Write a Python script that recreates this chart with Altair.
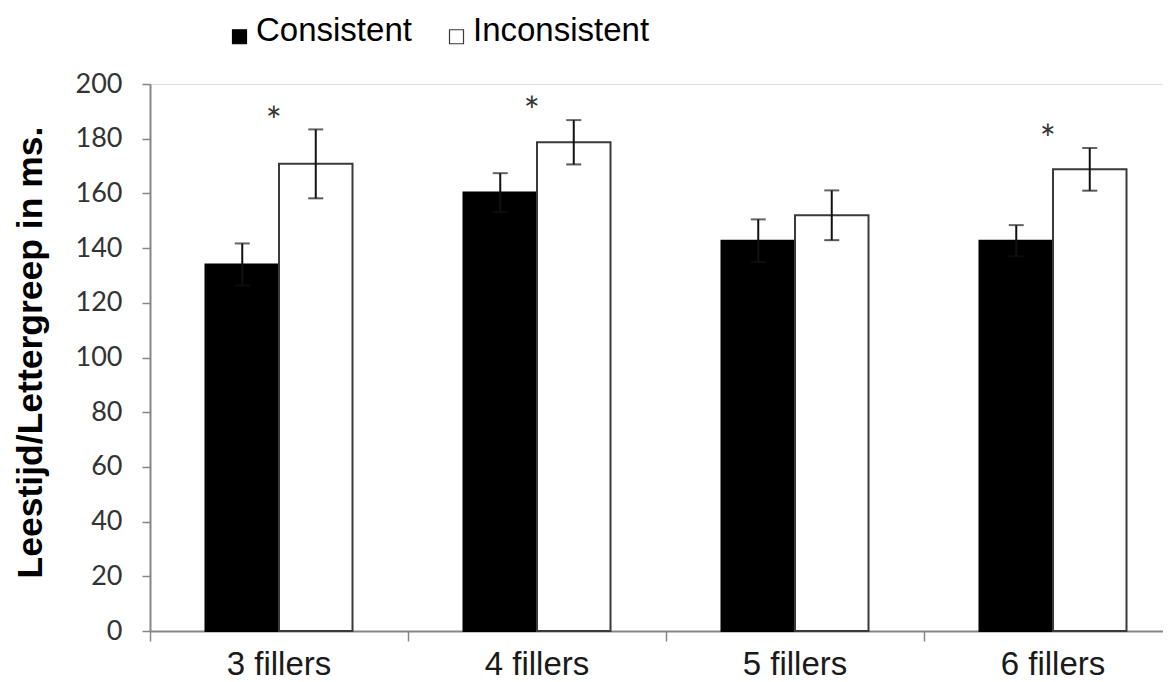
import altair as alt
import pandas as pd

categories = ["3 fillers", "4 fillers", "5 fillers", "6 fillers"]
series = ["Consistent", "Inconsistent"]
consistent = [134.0, 160.3, 142.7, 142.7]
inconsistent = [170.8, 178.7, 152.0, 168.8]
consistent_err = [7.7, 7.1, 7.8, 5.7]
inconsistent_err = [12.6, 8.1, 9.1, 7.8]
significant = [True, True, False, True]
y_ticks = [0, 20, 40, 60, 80, 100, 120, 140, 160, 180, 200]

rows = []
for i, c in enumerate(categories):
    rows.append({"cat": c, "series": series[0], "value": consistent[i],
                 "err": consistent_err[i], "sig": False})
    rows.append({"cat": c, "series": series[1], "value": inconsistent[i],
                 "err": inconsistent_err[i], "sig": significant[i]})
df = pd.DataFrame(rows)

x_scale = alt.Scale(range=[0, 1032], paddingInner=0, paddingOuter=0)
xo = alt.XOffset("series:N", sort=series,
                 scale=alt.Scale(paddingInner=0, paddingOuter=0.755))
y_scale = alt.Scale(domain=[0, 200], nice=False)

base = alt.Chart(df).transform_calculate(
    lo="datum.value - datum.err",
    hi="datum.value + datum.err",
    star="datum.value + datum.err + 6.5",
)

bars = base.mark_bar(strokeWidth=2).encode(
    x=alt.X("cat:N", sort=categories, scale=x_scale,
            axis=alt.Axis(title=None, labelAngle=0, labelFont="Liberation Sans",
                          labelFontSize=33, labelColor="#1a1a1a", ticks=False,
                          domain=False, labelPadding=17, grid=False,
                          orient="bottom")),
    xOffset=xo,
    y=alt.Y("value:Q", scale=y_scale,
            axis=alt.Axis(values=y_ticks, labelFont="Lato", labelFontSize=27,
                          labelColor="#333333", labelPadding=20, tickSize=8,
                          tickColor="#868686", tickWidth=1.5, domainColor="#868686",
                          domainWidth=2, grid=False,
                          title="Leestijd/Lettergreep in ms.",
                          titleFont="Liberation Sans", titleFontSize=35.5,
                          titleFontWeight="bold", titleColor="#000000",
                          titleAngle=270, titleX=-109, titleY=268,
                          titleAlign="center", titleBaseline="alphabetic")),
    fill=alt.Fill("series:N", sort=series,
                  scale=alt.Scale(domain=series, range=["#000000", "#ffffff"]),
                  legend=alt.Legend(title=None, orient="none", legendX=73, legendY=-70,
                                    direction="horizontal",
                                    symbolType="M-1,-0.14H1V1.86H-1Z",
                                    symbolSize=196, labelFontSize=33,
                                    labelFont="Liberation Sans", labelColor="#000000",
                                    labelLimit=400,
                                    columnPadding=28, labelOffset=0,
                                    symbolStrokeColor="#000000",
                                    symbolStrokeWidth=1.2, padding=0)),
    stroke=alt.Stroke("series:N", sort=series,
                      scale=alt.Scale(domain=series, range=["#000000", "#3a3a3a"]),
                      legend=None),
)

x_ticks_axis = alt.X("cat:N", sort=categories, scale=x_scale,
                     axis=alt.Axis(title=None, labels=False, bandPosition=0,
                                   orient="bottom",
                                   tickSize=10, tickColor="#868686", tickWidth=1.5,
                                   domainColor="#868686", domainWidth=2, grid=False))

rules = base.mark_rule(color="#111111", strokeWidth=2).encode(
    x=x_ticks_axis, xOffset=xo,
    y=alt.Y("lo:Q", scale=y_scale), y2="hi:Q",
)
caps_lo = base.mark_tick(color="#111111", thickness=2, size=15).encode(
    x=alt.X("cat:N", sort=categories, scale=x_scale, axis=None), xOffset=xo,
    y=alt.Y("lo:Q", scale=y_scale),
)
caps_hi = base.mark_tick(color="#222222", thickness=2, size=15).encode(
    x=alt.X("cat:N", sort=categories, scale=x_scale, axis=None), xOffset=xo,
    y=alt.Y("hi:Q", scale=y_scale),
)
stars = base.transform_filter("datum.sig").mark_text(
    text="*", font="Lato", fontSize=38, color="#333333", dx=-42, dy=23,
    baseline="alphabetic",
).encode(
    x=alt.X("cat:N", sort=categories, scale=x_scale, axis=None), xOffset=xo,
    y=alt.Y("star:Q", scale=y_scale),
)

chart = alt.layer(bars, rules, caps_lo, caps_hi, stars).resolve_axis(
    x="independent"
).properties(
    width=1013, height=547,
    autosize=alt.AutoSizeParams(type="none"),
    padding={"left": 142, "top": 76, "right": 0, "bottom": 58},
).configure_view(strokeWidth=0).configure(background="#ffffff")

chart.save("out.html", embed_options={"renderer": "svg", "actions": False})
